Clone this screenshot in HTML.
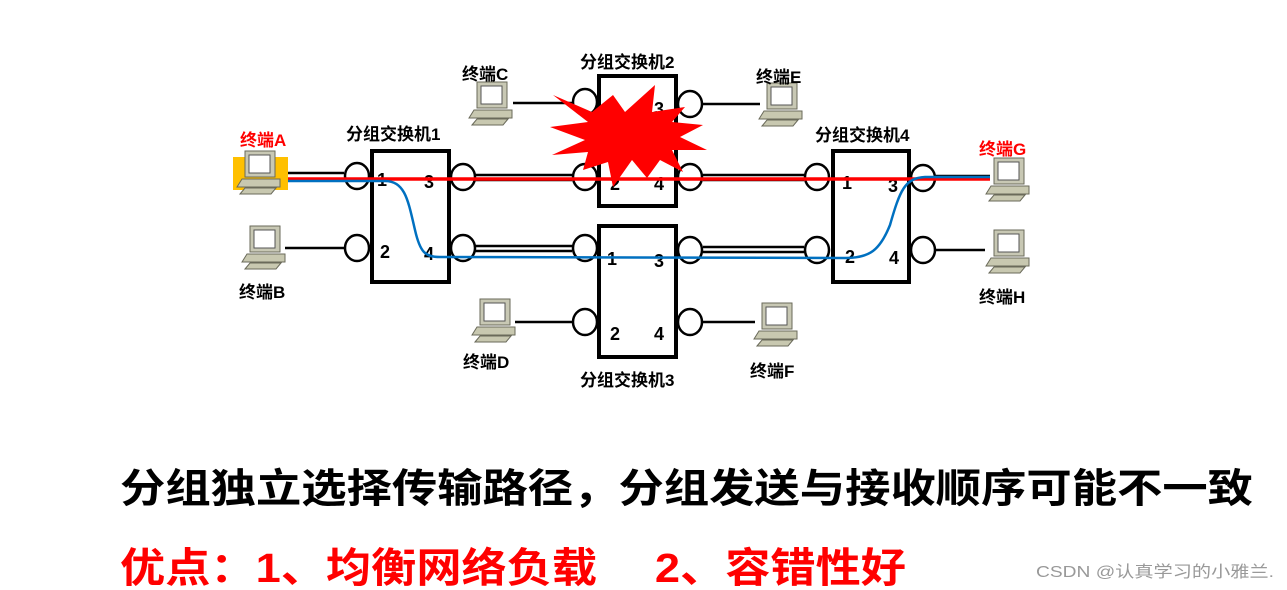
<!DOCTYPE html>
<html><head><meta charset="utf-8"><style>
html,body{margin:0;padding:0;background:#fff;}
svg{display:block;}
text{font-family:"Liberation Sans","Noto Sans CJK SC",sans-serif;font-weight:bold;}
</style></head><body>
<svg width="1287" height="590" viewBox="0 0 1287 590" xmlns="http://www.w3.org/2000/svg">
<defs>
<g id="pc">
  <rect x="8" y="0" width="30" height="26" fill="#c8c8b4" stroke="#6a6a5a" stroke-width="1"/>
  <rect x="12" y="4" width="21" height="18" fill="#fff" stroke="#555" stroke-width="1"/>
  <polygon points="0,36 5,28 43,28 43,36" fill="#c8c8b0" stroke="#6a6a5a" stroke-width="1"/>
  <polygon points="3,43 8,37 39,37 34,43" fill="#c8c8b0" stroke="#6a6a5a" stroke-width="1"/>
</g>
</defs>

<!-- computer to switch lines -->
<g stroke="#000" stroke-width="2.5" fill="none">
  <line x1="285" y1="173" x2="344" y2="173"/>
  <line x1="285" y1="248" x2="344" y2="248"/>
  <line x1="513" y1="103" x2="572" y2="103"/>
  <line x1="515" y1="322" x2="572" y2="322"/>
  <line x1="703" y1="104" x2="760" y2="104"/>
  <line x1="703" y1="322" x2="755" y2="322"/>
  <line x1="936" y1="250" x2="985" y2="250"/>
  <line x1="475" y1="175" x2="572" y2="175"/><line x1="475" y1="180" x2="572" y2="180"/>
  <line x1="475" y1="246" x2="572" y2="246"/><line x1="475" y1="251" x2="572" y2="251"/>
  <line x1="703" y1="175" x2="804" y2="175"/><line x1="703" y1="180" x2="804" y2="180"/>
  <line x1="703" y1="247" x2="804" y2="247"/><line x1="703" y1="252" x2="804" y2="252"/>
  <line x1="936" y1="176" x2="990" y2="176"/>
</g>

<!-- switches -->
<g stroke="#000" stroke-width="4" fill="#fff">
  <rect x="372" y="151" width="77" height="131"/>
  <rect x="599" y="76" width="77" height="130"/>
  <rect x="599" y="226" width="77" height="131"/>
  <rect x="833" y="151" width="76" height="131"/>
</g>
<g stroke="#000" stroke-width="2.5" fill="#fff">
  <ellipse cx="357" cy="176" rx="12" ry="13"/><ellipse cx="357" cy="248" rx="12" ry="13"/>
  <ellipse cx="463" cy="177" rx="12" ry="13"/><ellipse cx="463" cy="248" rx="12" ry="13"/>
  <ellipse cx="585" cy="102" rx="12" ry="13"/><ellipse cx="585" cy="177" rx="12" ry="13"/>
  <ellipse cx="690" cy="104" rx="12" ry="13"/><ellipse cx="690" cy="177" rx="12" ry="13"/>
  <ellipse cx="585" cy="248" rx="12" ry="13"/><ellipse cx="585" cy="322" rx="12" ry="13"/>
  <ellipse cx="690" cy="250" rx="12" ry="13"/><ellipse cx="690" cy="322" rx="12" ry="13"/>
  <ellipse cx="817" cy="177" rx="12" ry="13"/><ellipse cx="817" cy="250" rx="12" ry="13"/>
  <ellipse cx="923" cy="178" rx="12" ry="13"/><ellipse cx="923" cy="250" rx="12" ry="13"/>
</g>

<g font-size="18" fill="#000">
  <text x="377" y="186">1</text><text x="424" y="188">3</text>
  <text x="380" y="258">2</text><text x="424" y="260">4</text>
  <text x="654" y="115">3</text>
  <text x="610" y="190">2</text><text x="654" y="190">4</text>
  <text x="607" y="265">1</text><text x="654" y="267">3</text>
  <text x="610" y="340">2</text><text x="654" y="340">4</text>
  <text x="842" y="189">1</text><text x="888" y="192">3</text>
  <text x="845" y="263">2</text><text x="889" y="264">4</text>
</g>

<!-- starburst -->
<polygon fill="#ff0000" points="553,95 592,112 613,95 625,112 655,85 652,112 685,107 672,122 703,125 680,137 707,150 672,150 683,172 660,160 647,178 632,160 613,187 608,162 583,170 588,152 552,155 585,140 550,127 588,122"/>

<line x1="284" y1="179" x2="990" y2="179" stroke="#ff0000" stroke-width="3.5"/>
<path d="M284,181 L385,181 C405,181 408,200 415,230 C420,252 425,257 440,257 L845,258 C870,258 880,250 890,225 C900,190 905,178 925,177 L990,177" stroke="#0070c0" stroke-width="2.5" fill="none"/>

<rect x="233" y="157" width="55" height="33" fill="#ffc000"/>
<use href="#pc" x="237" y="151"/>
<use href="#pc" x="242" y="226"/>
<use href="#pc" x="469" y="82"/>
<use href="#pc" x="472" y="299"/>
<use href="#pc" x="759" y="83"/>
<use href="#pc" x="754" y="303"/>
<use href="#pc" x="986" y="158"/>
<use href="#pc" x="986" y="230"/>

<g font-size="17" fill="#000">
  <text x="240" y="146" fill="#ff0000">终端A</text>
  <text x="239" y="298">终端B</text>
  <text x="462" y="80">终端C</text>
  <text x="463" y="368">终端D</text>
  <text x="756" y="83">终端E</text>
  <text x="750" y="377">终端F</text>
  <text x="979" y="155" fill="#ff0000">终端G</text>
  <text x="979" y="303">终端H</text>
  <text x="346" y="140">分组交换机1</text>
  <text x="580" y="68">分组交换机2</text>
  <text x="580" y="386">分组交换机3</text>
  <text x="815" y="141">分组交换机4</text>
</g>

<text x="120" y="502" font-size="40" fill="#000" textLength="1133" lengthAdjust="spacingAndGlyphs">分组独立选择传输路径，分组发送与接收顺序可能不一致</text>
<text x="120" y="582" font-size="41" fill="#ff0000" textLength="786" lengthAdjust="spacingAndGlyphs">优点：1、均衡网络负载　 2、容错性好</text>
<text x="1036" y="577" font-size="16" fill="#999" style="font-weight:normal" textLength="238" lengthAdjust="spacingAndGlyphs">CSDN @认真学习的小雅兰.</text>
</svg>
</body></html>
